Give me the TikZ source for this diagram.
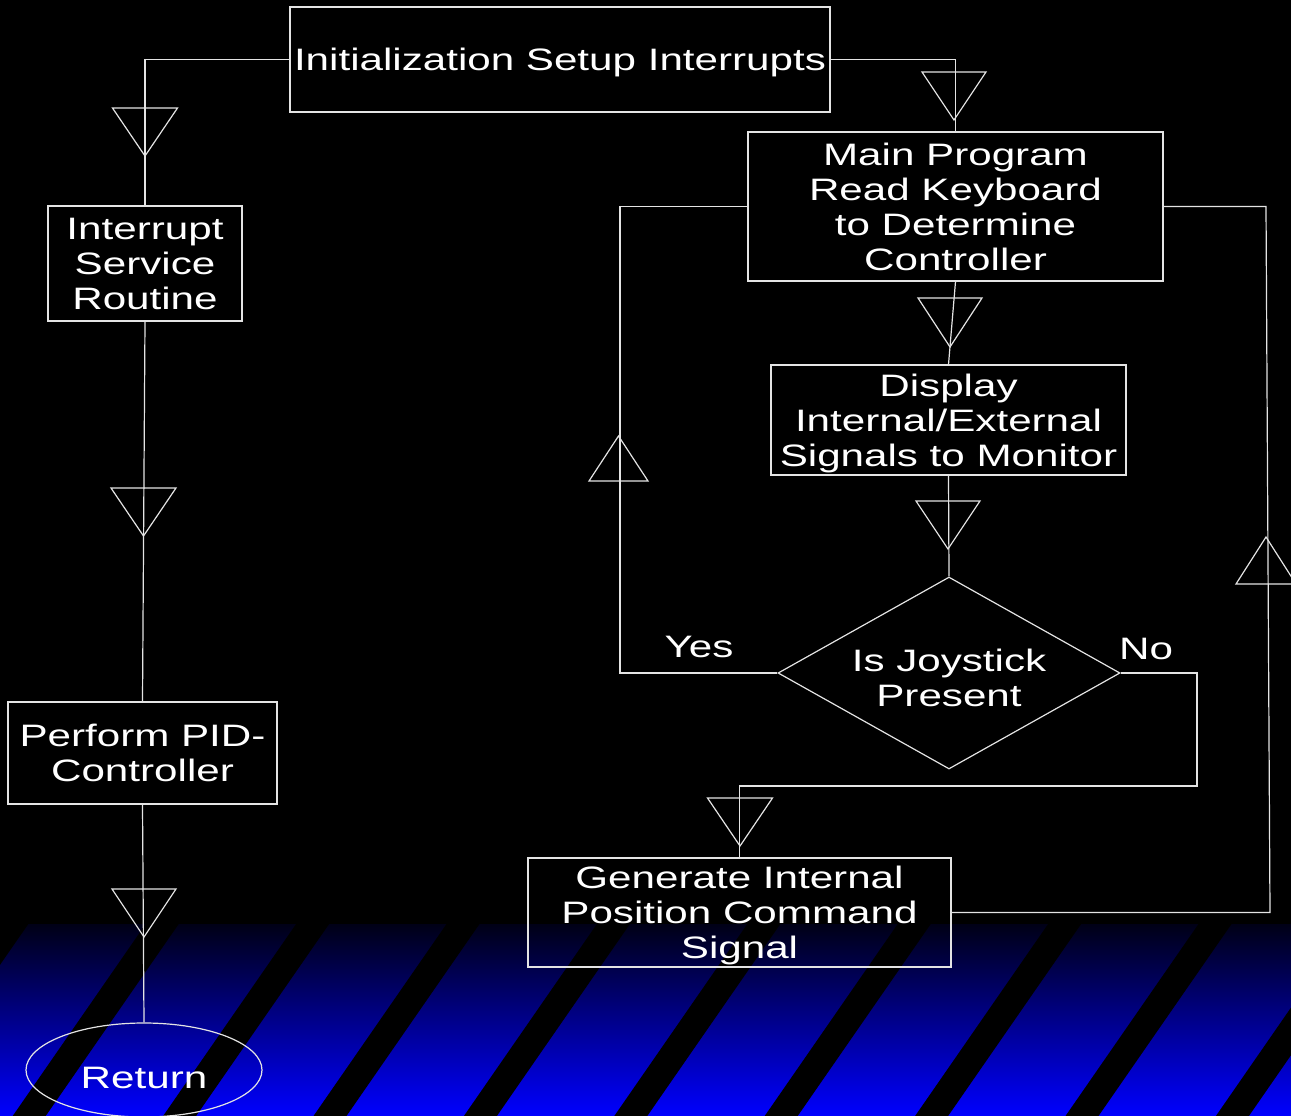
\documentclass[tikz,border=0pt]{standalone}
\usepackage{fontspec}
\setmainfont{Liberation Sans}
\newfontfamily\widefont[FakeStretch=1.36]{Liberation Sans}
\usetikzlibrary{shapes.geometric}
\definecolor{linecol}{RGB}{228,228,228}
\definecolor{bandtop}{RGB}{0,0,22}
\definecolor{bandbot}{RGB}{0,0,255}
\newcommand{\flowtri}[4]{\draw[tri] ({#1-#3},{#2}) -- ({#1+#3},{#2}) -- ({#1},{#4}) -- cycle;}
\begin{document}
\begin{tikzpicture}[x=1pt,y=-1pt,
  txt/.style={text=white, align=center, inner sep=0pt, text depth=0pt, font=\widefont\fontsize{31}{35}\selectfont},
  box/.style={txt, draw=linecol, line width=1.2pt, rectangle},
  conn/.style={draw=linecol, line width=1.2pt},
  tri/.style={draw=linecol, line width=1.2pt, line join=miter}]
\useasboundingbox (0,0) rectangle (1291,1116);
\fill[black] (0,0) rectangle (1291,1116);
\shade[top color=bandtop, bottom color=bandbot] (0,924) rectangle (1291,1116);
\begin{scope}
\clip (0,924) rectangle (1291,1116);
\foreach \n in {-1,...,9}{
  \fill[black] ({12+150.4*\n},1117) -- ({45+150.4*\n},1117) -- ({179.4+150.4*\n},923) -- ({146.4+150.4*\n},923) -- cycle;
}
\end{scope}

% nodes
\node[box, minimum width=540pt, minimum height=105pt] (init) at (560,59.5) {Initialization Setup Interrupts};
\node[box, minimum width=415pt, minimum height=149pt] (main) at (955.5,206.5) {Main Program\\Read Keyboard\\to Determine\\Controller};
\node[box, minimum width=194pt, minimum height=115pt] (isr) at (145,263.5) {Interrupt\\Service\\Routine};
\node[box, minimum width=355pt, minimum height=110pt] (disp) at (948.5,420) {Display\\Internal/External\\Signals to Monitor};
\node[draw=linecol, line width=1.2pt, diamond, inner sep=0pt, minimum width=342pt, minimum height=192pt] (dia) at (949,673) {};
\node[txt] (joy) at (949,678) {Is Joystick\\Present};
\node[box, minimum width=269pt, minimum height=102pt] (pid) at (142.5,753) {Perform PID-\\Controller};
\node[box, minimum width=423pt, minimum height=109pt] (gen) at (739.5,912.5) {Generate Internal\\Position Command\\Signal};
\node[txt, text height=36pt, draw=linecol, line width=1.2pt, ellipse, minimum width=236pt, minimum height=94pt] (ret) at (144,1070) {Return};
\node[txt] (yes) at (699,647) {Yes};
\node[txt] (no) at (1146,649) {No};

% connectors
\coordinate (yl) at (620,673);
\coordinate (nr) at (1197,673);
\coordinate (nb) at (1197,786);
\coordinate (gb) at (1270,912.5);
\coordinate (gt) at (1266,206.5);
\draw[conn] (init.west) -| (isr.north);
\draw[conn] (init.east) -| (main.north);
\draw[conn] (main.south) -- (disp.north);
\draw[conn] (disp.south) -- (dia.north);
\draw[conn] (dia.west) -- (yl) |- (main.west);
\draw[conn] (dia.east) -- (nr) -- (nb) -| (gen.north);
\draw[conn] (gen.east) -- (gb) -- (gt) -- (main.east);
\draw[conn] (isr.south) -- (pid.north);
\draw[conn] (pid.south) -- (ret.north);

% direction triangles
\flowtri{145}{108}{32.5}{156}
\flowtri{954}{72}{32}{120}
\flowtri{950}{298}{32}{347}
\flowtri{948}{501}{32}{549}
\flowtri{740}{798}{32.5}{846}
\flowtri{143.5}{488}{32.5}{536}
\flowtri{144}{889}{32}{937}
\flowtri{618.5}{481}{29.5}{436}
\flowtri{1266}{584}{30}{537}
\end{tikzpicture}
\end{document}
